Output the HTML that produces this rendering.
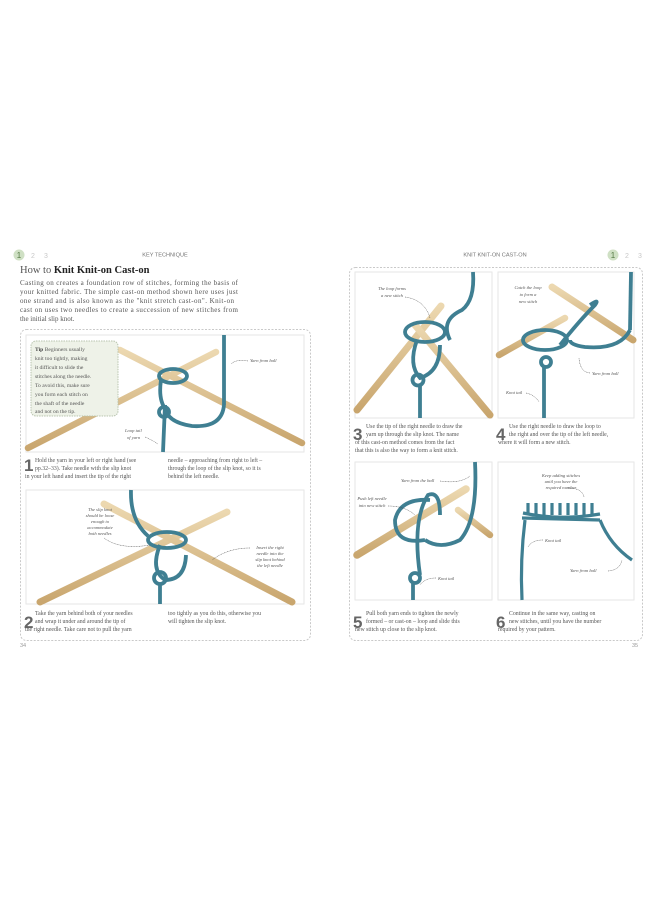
<!DOCTYPE html>
<html><head><meta charset="utf-8"><style>
html,body{margin:0;padding:0;background:#fff;width:660px;height:900px;overflow:hidden}
svg{display:block}
.s{font-family:"Liberation Serif",serif;fill:#555}
.a{font-family:"Liberation Sans",sans-serif}
.lab{font-family:"Liberation Serif",serif;font-style:italic;font-size:4.6px;fill:#555}
.y{fill:none;stroke:#3f7f92;stroke-width:3.8}
</style></head><body>
<svg width="660" height="900" viewBox="0 0 660 900" xmlns="http://www.w3.org/2000/svg">
<defs>
<linearGradient id="wood" x1="0" y1="0" x2="0" y2="1"><stop offset="0" stop-color="#ecd8b0"/><stop offset="1" stop-color="#c9a66e"/></linearGradient>
</defs>
<circle cx="19" cy="255" r="5.5" fill="#cfe0c4"/><text x="19" y="258" text-anchor="middle" class="a" font-size="8" fill="#557a45">1</text>
<text x="33" y="258" text-anchor="middle" class="a" font-size="7" fill="#c8c8c8">2</text>
<text x="46" y="258" text-anchor="middle" class="a" font-size="7" fill="#c8c8c8">3</text>
<text x="165" y="256.5" text-anchor="middle" class="a" font-size="5.6" fill="#777">KEY TECHNIQUE</text>
<text x="20" y="273" class="s" font-size="10.5" fill="#333">How to <tspan font-weight="bold" fill="#222">Knit Knit-on Cast-on</tspan></text>
<g class="s" font-size="7" fill="#666">
<text x="20" y="285" textLength="218">Casting on creates a foundation row of stitches, forming the basis of</text>
<text x="20" y="294" textLength="218">your knitted fabric. The simple cast-on method shown here uses just</text>
<text x="20" y="303" textLength="214">one strand and is also known as the "knit stretch cast-on". Knit-on</text>
<text x="20" y="312" textLength="218">cast on uses two needles to create a succession of new stitches from</text>
<text x="20" y="321">the initial slip knot.</text>
</g>
<rect x="20.5" y="329.5" width="290" height="311" rx="6" fill="none" stroke="#c9c9c9" stroke-dasharray="2,1.5"/>
<rect x="26" y="335" width="278" height="117" fill="#fff" stroke="#e6e6e6"/>
<line x1="28" y1="448" x2="216" y2="352" stroke="url(#wood)" stroke-width="6.5" stroke-linecap="round"/>
<line x1="120" y1="350" x2="302" y2="443" stroke="url(#wood)" stroke-width="6.5" stroke-linecap="round"/>
<line x1="224" y1="335" x2="224" y2="405" class="y"/>
<path d="M224 405 Q222 428 192 426 Q165 422 165 405 L163 452" class="y"/>
<ellipse cx="173" cy="376" rx="14" ry="7" class="y"/>
<path d="M161 380 Q158 400 166 410" class="y"/>
<circle cx="164" cy="412" r="5" class="y"/>
<rect x="31" y="341" width="87" height="75" rx="5" fill="#eef2e8" stroke="#b8c4ae" stroke-dasharray="1.5,1"/>
<g class="s" font-size="5.6" fill="#666">
<text x="35" y="351"><tspan font-weight="bold" fill="#444">Tip</tspan> Beginners usually</text>
<text x="35" y="360">knit too tightly, making</text>
<text x="35" y="369">it difficult to slide the</text>
<text x="35" y="378">stitches along the needle.</text>
<text x="35" y="387">To avoid this, make sure</text>
<text x="35" y="396">you form each stitch on</text>
<text x="35" y="405">the shaft of the needle</text>
<text x="35" y="413">and not on the tip.</text>
</g>
<text x="250" y="362" class="lab">Yarn from ball</text>
<path d="M248 361 Q236 359 231 364" fill="none" stroke="#444" stroke-width="0.5" stroke-dasharray="1,0.6"/>
<text x="125" y="432" class="lab">Loop tail</text><text x="127" y="439" class="lab">of yarn</text>
<path d="M145 437 Q152 440 158 444" fill="none" stroke="#444" stroke-width="0.5" stroke-dasharray="1,0.6"/>
<text x="24" y="471" class="a" font-size="17" font-weight="bold" fill="#666">1</text>
<g class="s" font-size="5.8" fill="#666">
<text x="35" y="462">Hold the yarn in your left or right hand (see</text>
<text x="35" y="470">pp.32–33). Take needle with the slip knot</text>
<text x="25" y="478">in your left hand and insert the tip of the right</text>
<text x="168" y="462">needle – approaching from right to left –</text>
<text x="168" y="470">through the loop of the slip knot, so it is</text>
<text x="168" y="478">behind the left needle.</text>
</g>
<rect x="26" y="490" width="278" height="114" fill="#fff" stroke="#e6e6e6"/>
<line x1="40" y1="602" x2="227" y2="512" stroke="url(#wood)" stroke-width="7" stroke-linecap="round"/>
<line x1="104" y1="504" x2="292" y2="602" stroke="url(#wood)" stroke-width="7" stroke-linecap="round"/>
<path d="M131 490 Q130 520 148 536" class="y"/>
<ellipse cx="167" cy="540" rx="19" ry="8" class="y"/>
<path d="M160 545 Q150 570 165 580 Q185 580 186 555" class="y"/>
<circle cx="160" cy="578" r="6" class="y"/>
<line x1="160" y1="584" x2="160" y2="604" class="y"/>
<g class="lab"><text x="100" y="511" text-anchor="middle">The slip knot</text><text x="100" y="517" text-anchor="middle">should be loose</text><text x="100" y="523" text-anchor="middle">enough to</text><text x="100" y="529" text-anchor="middle">accommodate</text><text x="100" y="535" text-anchor="middle">both needles</text></g>
<path d="M104 538 Q120 550 150 545" fill="none" stroke="#444" stroke-width="0.5" stroke-dasharray="1,0.6"/>
<g class="lab"><text x="270" y="549" text-anchor="middle">Insert the right</text><text x="270" y="555" text-anchor="middle">needle into the</text><text x="270" y="561" text-anchor="middle">slip knot behind</text><text x="270" y="567" text-anchor="middle">the left needle</text></g>
<path d="M250 548 Q228 548 212 560" fill="none" stroke="#444" stroke-width="0.5" stroke-dasharray="1,0.6"/>
<text x="24" y="628" class="a" font-size="17" font-weight="bold" fill="#666">2</text>
<g class="s" font-size="5.8" fill="#666">
<text x="35" y="615">Take the yarn behind both of your needles</text>
<text x="35" y="623">and wrap it under and around the tip of</text>
<text x="25" y="631">the right needle. Take care not to pull the yarn</text>
<text x="168" y="615">too tightly as you do this, otherwise you</text>
<text x="168" y="623">will tighten the slip knot.</text>
</g>
<text x="20" y="647" class="a" font-size="5.5" fill="#999">34</text>

<text x="495" y="256.5" text-anchor="middle" class="a" font-size="5.6" fill="#777">KNIT KNIT-ON CAST-ON</text>
<circle cx="613" cy="255" r="5.5" fill="#cfe0c4"/><text x="613" y="258" text-anchor="middle" class="a" font-size="8" fill="#557a45">1</text>
<text x="627" y="258" text-anchor="middle" class="a" font-size="7" fill="#c8c8c8">2</text>
<text x="640" y="258" text-anchor="middle" class="a" font-size="7" fill="#c8c8c8">3</text>
<rect x="349.5" y="267.5" width="293" height="373" rx="6" fill="none" stroke="#c9c9c9" stroke-dasharray="2,1.5"/>
<rect x="355" y="272" width="137" height="146" fill="#fff" stroke="#e6e6e6"/>
<line x1="357" y1="410" x2="441" y2="306" stroke="url(#wood)" stroke-width="7" stroke-linecap="round"/>
<line x1="415" y1="325" x2="490" y2="415" stroke="url(#wood)" stroke-width="7" stroke-linecap="round"/>
<path d="M473 272 Q475 300 462 310 Q440 320 450 340" class="y"/>
<ellipse cx="425" cy="332" rx="20" ry="10" class="y"/>
<path d="M417 340 Q408 365 420 378 Q440 372 440 345" class="y"/>
<circle cx="418" cy="380" r="5.5" class="y"/>
<line x1="420" y1="386" x2="420" y2="418" class="y"/>
<g class="lab"><text x="392" y="290" text-anchor="middle">The loop forms</text><text x="392" y="297" text-anchor="middle">a new stitch</text></g>
<path d="M405 297 Q425 300 430 318" fill="none" stroke="#444" stroke-width="0.5" stroke-dasharray="1,0.6"/>
<rect x="498" y="272" width="136" height="146" fill="#fff" stroke="#e6e6e6"/>
<line x1="499" y1="355" x2="565" y2="318" stroke="url(#wood)" stroke-width="6.5" stroke-linecap="round"/>
<line x1="552" y1="287" x2="633" y2="340" stroke="url(#wood)" stroke-width="7" stroke-linecap="round"/>
<line x1="631" y1="272" x2="630" y2="330" class="y"/>
<path d="M630 330 Q620 350 585 347 Q570 345 570 340" class="y"/>
<ellipse cx="545" cy="340" rx="22" ry="10" class="y"/>
<path d="M560 345 Q580 320 595 305 Q600 298 590 305" class="y"/>
<circle cx="546" cy="362" r="5" class="y"/>
<line x1="544" y1="366" x2="544" y2="418" class="y"/>
<g class="lab"><text x="528" y="289" text-anchor="middle">Catch the loop</text><text x="528" y="296" text-anchor="middle">to form a</text><text x="528" y="303" text-anchor="middle">new stitch</text></g>
<text x="592" y="375" class="lab">Yarn from ball</text>
<path d="M590 373 Q580 372 579 358" fill="none" stroke="#444" stroke-width="0.5" stroke-dasharray="1,0.6"/>
<text x="506" y="394" class="lab">Knot tail</text>
<path d="M526 393 Q535 395 539 402" fill="none" stroke="#444" stroke-width="0.5" stroke-dasharray="1,0.6"/>
<text x="353" y="440" class="a" font-size="17" font-weight="bold" fill="#666">3</text>
<g class="s" font-size="5.8" fill="#666">
<text x="366" y="428">Use the tip of the right needle to draw the</text>
<text x="366" y="436">yarn up through the slip knot. The name</text>
<text x="355" y="444">of this cast-on method comes from the fact</text>
<text x="355" y="452">that this is also the way to form a knit stitch.</text>
</g>
<text x="496" y="440" class="a" font-size="17" font-weight="bold" fill="#666">4</text>
<g class="s" font-size="5.8" fill="#666">
<text x="509" y="428">Use the right needle to draw the loop to</text>
<text x="509" y="436">the right and over the tip of the left needle,</text>
<text x="498" y="444">where it will form a new stitch.</text>
</g>
<rect x="355" y="462" width="137" height="138" fill="#fff" stroke="#e6e6e6"/>
<line x1="357" y1="555" x2="466" y2="489" stroke="url(#wood)" stroke-width="7.5" stroke-linecap="round"/>
<line x1="458" y1="510" x2="490" y2="535" stroke="url(#wood)" stroke-width="6.5" stroke-linecap="round"/>
<path d="M475 462 Q478 520 460 540 Q440 550 425 540" class="y"/>
<path d="M425 540 Q395 545 395 520 Q400 498 430 500" class="y"/>
<path d="M420 575 Q412 520 428 495 Q440 490 440 515" class="y"/>
<circle cx="415" cy="578" r="5" class="y"/>
<line x1="413" y1="582" x2="413" y2="600" class="y"/>
<text x="401" y="482" class="lab">Yarn from the ball</text>
<path d="M440 481 Q460 484 470 476" fill="none" stroke="#444" stroke-width="0.5" stroke-dasharray="1,0.6"/>
<g class="lab"><text x="372" y="500" text-anchor="middle">Push left needle</text><text x="372" y="507" text-anchor="middle">into new stitch</text></g>
<path d="M388 506 Q405 506 415 515" fill="none" stroke="#444" stroke-width="0.5" stroke-dasharray="1,0.6"/>
<text x="438" y="580" class="lab">Knot tail</text>
<path d="M436 578 Q425 578 420 585" fill="none" stroke="#444" stroke-width="0.5" stroke-dasharray="1,0.6"/>
<rect x="498" y="462" width="136" height="138" fill="#fff" stroke="#e6e6e6"/>
<line x1="499" y1="507" x2="633" y2="507" stroke="url(#wood)" stroke-width="7" stroke-linecap="butt"/>
<g fill="none" stroke="#3f7f92" stroke-width="3.2">
<path d="M525 520 Q520 560 522 600"/>
<path d="M600 520 Q610 545 632 560"/>
<path d="M522 518 L600 520"/>
<path d="M523 513 Q560 521 600 514"/>
<path d="M528 503 v12 M536 503 v12 M544 503 v12 M552 503 v12 M560 503 v12 M568 503 v12 M576 503 v12 M584 503 v12 M592 503 v12"/>
</g>
<g class="lab"><text x="561" y="477" text-anchor="middle">Keep adding stitches</text><text x="561" y="483" text-anchor="middle">until you have the</text><text x="561" y="489" text-anchor="middle">required number</text></g>
<path d="M568 488 Q582 488 584 497" fill="none" stroke="#444" stroke-width="0.5" stroke-dasharray="1,0.6"/>
<text x="545" y="542" class="lab">Knot tail</text>
<path d="M543 540 Q532 540 528 547" fill="none" stroke="#444" stroke-width="0.5" stroke-dasharray="1,0.6"/>
<text x="570" y="572" class="lab">Yarn from ball</text>
<path d="M608 571 Q620 570 622 560" fill="none" stroke="#444" stroke-width="0.5" stroke-dasharray="1,0.6"/>
<text x="353" y="628" class="a" font-size="17" font-weight="bold" fill="#666">5</text>
<g class="s" font-size="5.8" fill="#666">
<text x="366" y="615">Pull both yarn ends to tighten the newly</text>
<text x="366" y="623">formed – or cast-on – loop and slide this</text>
<text x="355" y="631">new stitch up close to the slip knot.</text>
</g>
<text x="496" y="628" class="a" font-size="17" font-weight="bold" fill="#666">6</text>
<g class="s" font-size="5.8" fill="#666">
<text x="509" y="615">Continue in the same way, casting on</text>
<text x="509" y="623">new stitches, until you have the number</text>
<text x="498" y="631">required by your pattern.</text>
</g>
<text x="632" y="647" class="a" font-size="5.5" fill="#999">35</text>
</svg>
</body></html>
